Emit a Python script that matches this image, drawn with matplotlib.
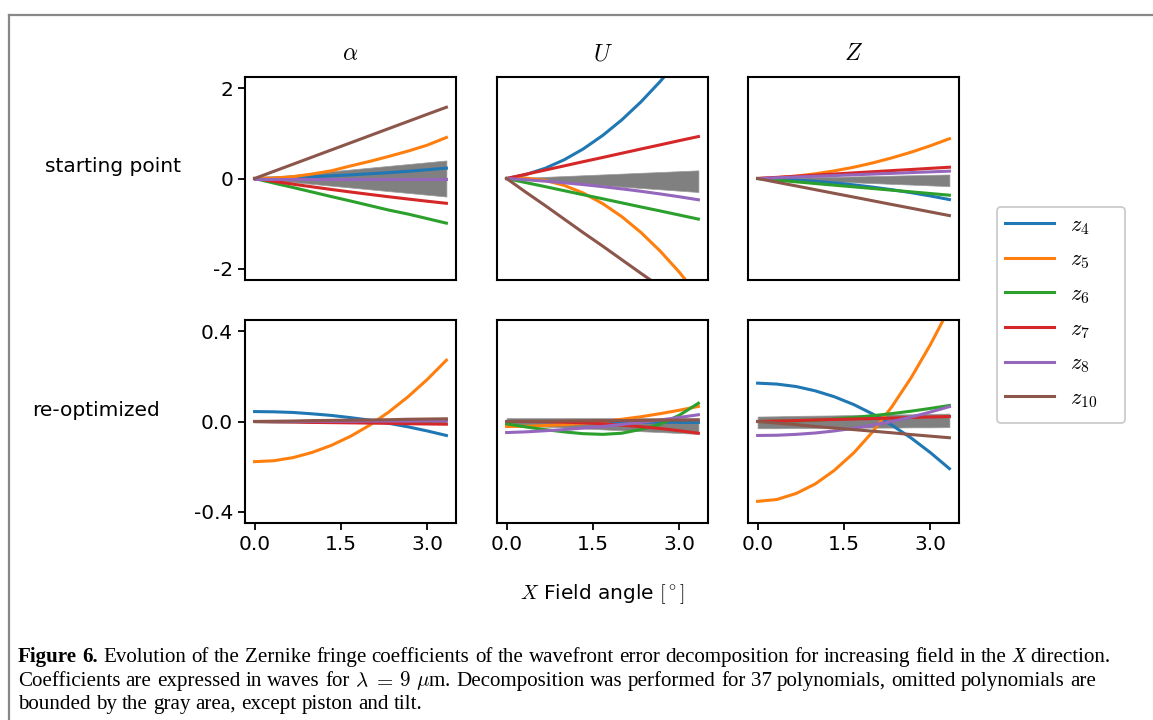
import matplotlib
matplotlib.use("Agg")
import matplotlib.pyplot as plt
from matplotlib.lines import Line2D
from matplotlib.patches import FancyBboxPatch
from matplotlib.transforms import IdentityTransform

# ---------------- data ----------------
field = [0.0, 0.33, 0.67, 1.0, 1.33, 1.67, 2.0, 2.33, 2.67, 3.0, 3.33]

labels = [r"$z_4$", r"$z_5$", r"$z_6$", r"$z_7$", r"$z_8$", r"$z_{10}$"]
colors = ["#1f77b4", "#ff7f0e", "#2ca02c", "#d62728", "#9467bd", "#8c564b"]
col_titles = [r"$\alpha$", r"$U$", r"$Z$"]
row_titles = ["starting point", "re-optimized"]

# starting point, alpha
sa_z4 = [0, 0.01, 0.025, 0.04, 0.06, 0.08, 0.105, 0.13, 0.16, 0.195, 0.23]
sa_z5 = [0, 0.012, 0.04, 0.10, 0.17, 0.28, 0.38, 0.49, 0.61, 0.74, 0.91]
sa_z6 = [0, -0.10, -0.20, -0.30, -0.40, -0.50, -0.60, -0.70, -0.79, -0.89, -0.99]
sa_z7 = [0, -0.063, -0.126, -0.185, -0.243, -0.30, -0.353, -0.405, -0.456, -0.504, -0.55]
sa_z8 = [0, 0, 0, 0, 0, 0, 0, 0, 0, 0, 0]
sa_z10 = [0, 0.157, 0.318, 0.475, 0.632, 0.793, 0.95, 1.107, 1.268, 1.425, 1.58]
sa_hi = [0, 0.04, 0.08, 0.12, 0.16, 0.20, 0.24, 0.28, 0.32, 0.36, 0.40]
sa_lo = [0, -0.04, -0.08, -0.12, -0.16, -0.20, -0.24, -0.28, -0.32, -0.36, -0.40]

# starting point, U
su_z4 = [0, 0.085, 0.227, 0.415, 0.655, 0.956, 1.30, 1.695, 2.156, 2.655, 3.206]
su_z5 = [0, 0.010, -0.043, -0.153, -0.322, -0.558, -0.846, -1.193, -1.613, -2.079, -2.604]
su_z6 = [0, -0.09, -0.18, -0.27, -0.36, -0.45, -0.54, -0.63, -0.72, -0.81, -0.90]
su_z7 = [0, 0.093, 0.187, 0.28, 0.373, 0.467, 0.56, 0.653, 0.747, 0.84, 0.93]
su_z8 = [0, -0.027, -0.059, -0.095, -0.135, -0.181, -0.23, -0.283, -0.343, -0.405, -0.472]
su_z10 = [0, -0.30, -0.60, -0.90, -1.20, -1.50, -1.80, -2.10, -2.40, -2.70, -3.00]
su_hi = [0, 0.018, 0.036, 0.054, 0.072, 0.09, 0.108, 0.126, 0.144, 0.162, 0.18]
su_lo = [0, -0.03, -0.06, -0.09, -0.12, -0.15, -0.18, -0.21, -0.24, -0.27, -0.30]

# starting point, Z
sz_z4 = [0, -0.013, -0.034, -0.062, -0.097, -0.141, -0.191, -0.248, -0.315, -0.387, -0.467]
sz_z5 = [0, 0.019, 0.054, 0.104, 0.169, 0.25, 0.346, 0.457, 0.585, 0.726, 0.882]
sz_z6 = [0, -0.037, -0.074, -0.111, -0.148, -0.185, -0.222, -0.259, -0.296, -0.333, -0.37]
sz_z7 = [0, 0.025, 0.05, 0.075, 0.10, 0.125, 0.15, 0.175, 0.20, 0.225, 0.25]
sz_z8 = [0, 0.016, 0.033, 0.049, 0.065, 0.082, 0.098, 0.114, 0.131, 0.147, 0.163]
sz_z10 = [0, -0.082, -0.165, -0.247, -0.329, -0.412, -0.494, -0.576, -0.659, -0.741, -0.822]
sz_hi = [0, 0.009, 0.018, 0.027, 0.036, 0.045, 0.054, 0.063, 0.072, 0.081, 0.089]
sz_lo = [0, -0.017, -0.034, -0.051, -0.068, -0.085, -0.102, -0.119, -0.136, -0.153, -0.17]

# re-optimized, alpha
ra_z4 = [0.044, 0.043, 0.040, 0.034, 0.027, 0.017, 0.006, -0.008, -0.024, -0.042, -0.062]
ra_z5 = [-0.178, -0.174, -0.160, -0.137, -0.106, -0.065, -0.016, 0.042, 0.111, 0.187, 0.272]
ra_z6 = [0, 0, 0, 0, 0.001, 0.001, 0.002, 0.002, 0.003, 0.003, 0.004]
ra_z7 = [0, -0.001, -0.002, -0.004, -0.005, -0.006, -0.007, -0.008, -0.010, -0.011, -0.012]
ra_z8 = [0, 0, 0, 0.001, 0.001, 0.001, 0.002, 0.002, 0.002, 0.003, 0.003]
ra_z10 = [0, 0.001, 0.002, 0.004, 0.005, 0.006, 0.007, 0.008, 0.010, 0.011, 0.012]
ra_hi = [0.004, 0.005, 0.005, 0.006, 0.007, 0.007, 0.008, 0.009, 0.009, 0.010, 0.011]
ra_lo = [-0.004, -0.005, -0.005, -0.006, -0.007, -0.007, -0.008, -0.009, -0.009, -0.010, -0.011]

# re-optimized, U
ru_z4 = [0, 0, -0.001, -0.001, -0.002, -0.002, -0.002, -0.003, -0.003, -0.004, -0.004]
ru_z5 = [-0.022, -0.021, -0.018, -0.014, -0.008, 0.0, 0.010, 0.021, 0.035, 0.050, 0.067]
ru_z6 = [-0.010, -0.024, -0.036, -0.046, -0.054, -0.057, -0.052, -0.035, -0.012, 0.028, 0.081]
ru_z7 = [0, 0, -0.001, -0.003, -0.006, -0.010, -0.016, -0.023, -0.031, -0.041, -0.052]
ru_z8 = [-0.049, -0.046, -0.041, -0.036, -0.029, -0.022, -0.013, -0.004, 0.007, 0.018, 0.030]
ru_z10 = [0, 0.001, 0.001, 0.002, 0.003, 0.004, 0.004, 0.005, 0.006, 0.006, 0.007]
ru_hi = [0.015, 0.015, 0.015, 0.015, 0.015, 0.015, 0.015, 0.015, 0.015, 0.015, 0.015]
ru_lo = [-0.015, -0.019, -0.023, -0.027, -0.031, -0.035, -0.039, -0.043, -0.047, -0.051, -0.055]

# re-optimized, Z
rz_z4 = [0.170, 0.166, 0.155, 0.136, 0.110, 0.075, 0.033, -0.016, -0.074, -0.138, -0.209]
rz_z5 = [-0.354, -0.346, -0.319, -0.277, -0.217, -0.139, -0.045, 0.065, 0.196, 0.341, 0.502]
rz_z6 = [0, 0.001, 0.003, 0.006, 0.011, 0.018, 0.026, 0.035, 0.046, 0.058, 0.071]
rz_z7 = [0, 0.002, 0.004, 0.007, 0.009, 0.011, 0.013, 0.015, 0.018, 0.020, 0.022]
rz_z8 = [-0.062, -0.061, -0.057, -0.051, -0.042, -0.030, -0.016, 0.0, 0.020, 0.042, 0.066]
rz_z10 = [0, -0.007, -0.014, -0.022, -0.029, -0.036, -0.043, -0.050, -0.058, -0.065, -0.072]
rz_hi = [0.022, 0.023, 0.025, 0.026, 0.027, 0.029, 0.030, 0.031, 0.032, 0.034, 0.035]
rz_lo = [-0.030, -0.030, -0.029, -0.029, -0.028, -0.028, -0.027, -0.027, -0.026, -0.026, -0.025]

panels = [
    [([sa_z4, sa_z5, sa_z6, sa_z7, sa_z8, sa_z10], sa_hi, sa_lo),
     ([su_z4, su_z5, su_z6, su_z7, su_z8, su_z10], su_hi, su_lo),
     ([sz_z4, sz_z5, sz_z6, sz_z7, sz_z8, sz_z10], sz_hi, sz_lo)],
    [([ra_z4, ra_z5, ra_z6, ra_z7, ra_z8, ra_z10], ra_hi, ra_lo),
     ([ru_z4, ru_z5, ru_z6, ru_z7, ru_z8, ru_z10], ru_hi, ru_lo),
     ([rz_z4, rz_z5, rz_z6, rz_z7, rz_z8, rz_z10], rz_hi, rz_lo)],
]
row_yticks = [[-2, 0, 2], [-0.4, 0.0, 0.4]]
row_yticklabels = [["-2", "0", "2"], ["-0.4", "0.0", "0.4"]]
row_ylims = [(-2.25, 2.25), (-0.45, 0.45)]
xticks = [0.0, 1.5, 3.0]
xticklabels = ["0.0", "1.5", "3.0"]

# ---------------- style ----------------
plt.rcParams["font.family"] = ["DejaVu Sans"]
plt.rcParams["font.size"] = 14.5
plt.rcParams["mathtext.fontset"] = "cm"
plt.rcParams["axes.unicode_minus"] = False

W, H = 1153, 720
fig = plt.figure(figsize=(W / 100, H / 100), dpi=100)

def fx(px):
    return px / W

def fy(py):
    return 1 - py / H

col_left = [245, 497, 748]
ax_w = 211
row_top = [77, 320]
ax_h = 203

axes = []
for r in range(2):
    row_axes = []
    for c in range(3):
        ax = fig.add_axes([fx(col_left[c]), fy(row_top[r] + ax_h), ax_w / W, ax_h / H])
        series, hi, lo = panels[r][c]
        ax.fill_between(field, lo, hi, color="#808080", lw=0.5, edgecolor="#9a9a9a", zorder=1)
        for s, lab, col in zip(series, labels, colors):
            ax.plot(field, s, color=col, lw=2.2, label=lab, zorder=2)
        ax.set_ylim(*row_ylims[r])
        ax.set_xlim(-0.1665, 3.4965)
        for sp in ax.spines.values():
            sp.set_linewidth(1.5)
        ax.tick_params(width=1.3, length=5.0)
        if c == 0:
            ax.set_yticks(row_yticks[r])
            ax.set_yticklabels(row_yticklabels[r])
        else:
            ax.set_yticks([])
        if r == 1:
            ax.set_xticks(xticks)
            ax.set_xticklabels(xticklabels)
        else:
            ax.set_xticks([])
        if r == 0:
            ax.set_title(col_titles[c], fontsize=17, pad=12)
        row_axes.append(ax)
    axes.append(row_axes)

# row labels
fig.text(fx(113), fy(166), row_titles[0], ha="center", va="center", fontsize=14.5)
fig.text(fx(96), fy(410), row_titles[1], ha="center", va="center", fontsize=14.5)

# common x label
fig.text(fx(602), fy(594), r"$X$ Field angle $[^\circ]$", ha="center", va="center", fontsize=14.5)

# legend frame (drawn separately to match the reference box) + entries
frame = FancyBboxPatch((997, H - 423), 128, 216,
                       boxstyle="round,pad=0,rounding_size=4",
                       transform=IdentityTransform(), facecolor="white",
                       edgecolor="#cccccc", lw=1.3, zorder=3)
fig.add_artist(frame)
handles, labs = axes[0][0].get_legend_handles_labels()
leg = fig.legend(handles, labs, loc="upper left",
                 bbox_to_anchor=(fx(997), fy(207)), borderaxespad=0,
                 fontsize=16, handlelength=2.2, handletextpad=0.75,
                 labelspacing=0.58, borderpad=0.35, frameon=False)
leg.set_zorder(4)
for lh in leg.get_lines():
    lh.set_linewidth(2.2)

# border of the figure panel
fig.add_artist(Line2D([fx(9), fx(1153)], [fy(15), fy(15)], transform=fig.transFigure,
                      color="#888888", lw=1.6))
fig.add_artist(Line2D([fx(9), fx(9)], [fy(15), fy(720)], transform=fig.transFigure,
                      color="#888888", lw=1.6))

# caption, set word by word
renderer = fig.canvas.get_renderer()
cap_font = "Liberation Serif"
cap_size = 15.1

def text_width(s, **kw):
    t = fig.text(0, 0, s, fontsize=cap_size, family=cap_font, **kw)
    w = t.get_window_extent(renderer).width
    t.remove()
    return w

space_w = text_width("a a") - 2 * text_width("a")

def draw_words(x_px, base_px, words):
    x = x_px
    for txt, kw in words:
        t = fig.text(fx(x), fy(base_px), txt, fontsize=cap_size, family=cap_font,
                     ha="left", va="baseline", **kw)
        x += t.get_window_extent(renderer).width + space_w

def plain(s):
    return [(w, {}) for w in s.split(" ")]

line1 = ([("Figure", {"weight": "bold"}), ("6.", {"weight": "bold"})]
         + plain("Evolution of the Zernike fringe coefficients of the wavefront error decomposition for increasing field in the")
         + [("X", {"style": "italic"}), ("direction.", {})])
line2 = (plain("Coefficients are expressed in waves for")
         + [(r"$\lambda$", {}), (r"$=$", {}), (r"$9$", {}), (r"$\mu$m.", {})]
         + plain("Decomposition was performed for 37 polynomials, omitted polynomials are"))
line3 = plain("bounded by the gray area, except piston and tilt.")

draw_words(18, 662, line1)
draw_words(18, 686, line2)
draw_words(18, 709, line3)

fig.savefig("out.png", dpi=100)
